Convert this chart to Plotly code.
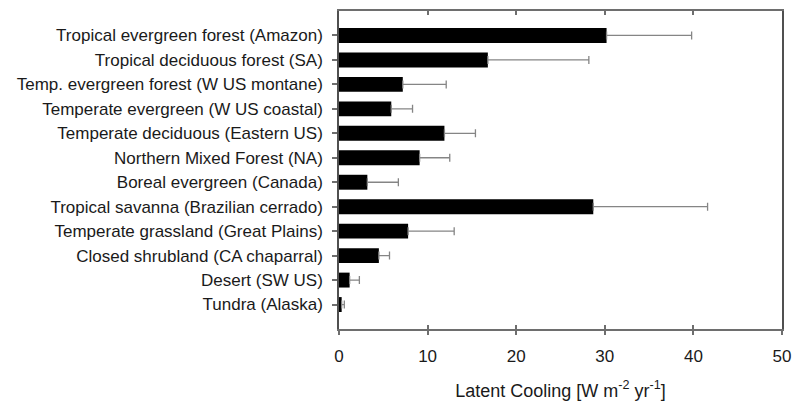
import plotly.graph_objects as go

# === Data ===
biomes = [
    "Tropical evergreen forest (Amazon)",
    "Tropical deciduous forest (SA)",
    "Temp. evergreen forest (W US montane)",
    "Temperate evergreen (W US coastal)",
    "Temperate deciduous (Eastern US)",
    "Northern Mixed Forest (NA)",
    "Boreal evergreen (Canada)",
    "Tropical savanna (Brazilian cerrado)",
    "Temperate grassland (Great Plains)",
    "Closed shrubland (CA chaparral)",
    "Desert (SW US)",
    "Tundra (Alaska)",
]
cooling = [30.2, 16.8, 7.2, 5.9, 11.9, 9.1, 3.2, 28.7, 7.8, 4.5, 1.2, 0.3]
cooling_err = [9.6, 11.4, 4.9, 2.4, 3.5, 3.4, 3.5, 12.9, 5.2, 1.2, 1.1, 0.3]
x_ticks = [0, 10, 20, 30, 40, 50]

FONT = "Liberation Sans, Arial, sans-serif"
LINE = "#6e6e6e"

fig = go.Figure()

fig.add_trace(go.Bar(
    x=cooling, y=biomes,
    orientation="h",
    width=0.61,
    marker=dict(color="black", line=dict(width=0)),
    error_x=dict(type="data", array=cooling_err, symmetric=False,
                 arrayminus=[0] * len(cooling),
                 color="#858585", thickness=1.3, width=4),
    showlegend=False,
))

# invisible trace to hold the inside-tick overlay axis
fig.add_trace(go.Scatter(x=[0], y=[biomes[0]], xaxis="x2", mode="markers",
                         marker=dict(opacity=0), showlegend=False, hoverinfo="skip"))

fig.update_layout(
    width=793, height=403,
    margin=dict(l=339, r=11, t=11, b=74),
    plot_bgcolor="white", paper_bgcolor="white",
    font=dict(family=FONT, size=17, color="#1a1a1a"),
    xaxis=dict(
        range=[0, 50], tickvals=x_ticks, automargin=False,
        showgrid=False, zeroline=False,
        showline=True, linecolor=LINE, linewidth=1.5, mirror=True,
        ticks="outside", ticklen=4, tickcolor=LINE, tickwidth=1.5,
        ticklabelstandoff=7, tickfont=dict(size=17),
        title=dict(text="Latent Cooling [W m<sup>-2</sup> yr<sup>-1</sup>]",
                   font=dict(size=18), standoff=19),
    ),
    xaxis2=dict(
        overlaying="x", side="bottom", range=[0, 50], tickvals=x_ticks,
        showticklabels=False, showgrid=False, zeroline=False, automargin=False,
        ticks="inside", ticklen=4, tickcolor=LINE, tickwidth=1.5,
        mirror="ticks", showline=False,
    ),
    yaxis=dict(
        type="category", categoryorder="array", categoryarray=biomes,
        range=[12, -1], automargin=False,
        showgrid=False, zeroline=False,
        showline=True, linecolor="#505050", linewidth=1.5, mirror=True,
        ticks="outside", ticklen=5, tickcolor=LINE, tickwidth=1.5,
        ticklabelstandoff=6,
        tickfont=dict(size=17),
    ),
)

# page body margin would shift the figure by 8px
fig.write_html("out.html", config={"displayModeBar": False},
               post_script="document.body.style.margin='0';")
